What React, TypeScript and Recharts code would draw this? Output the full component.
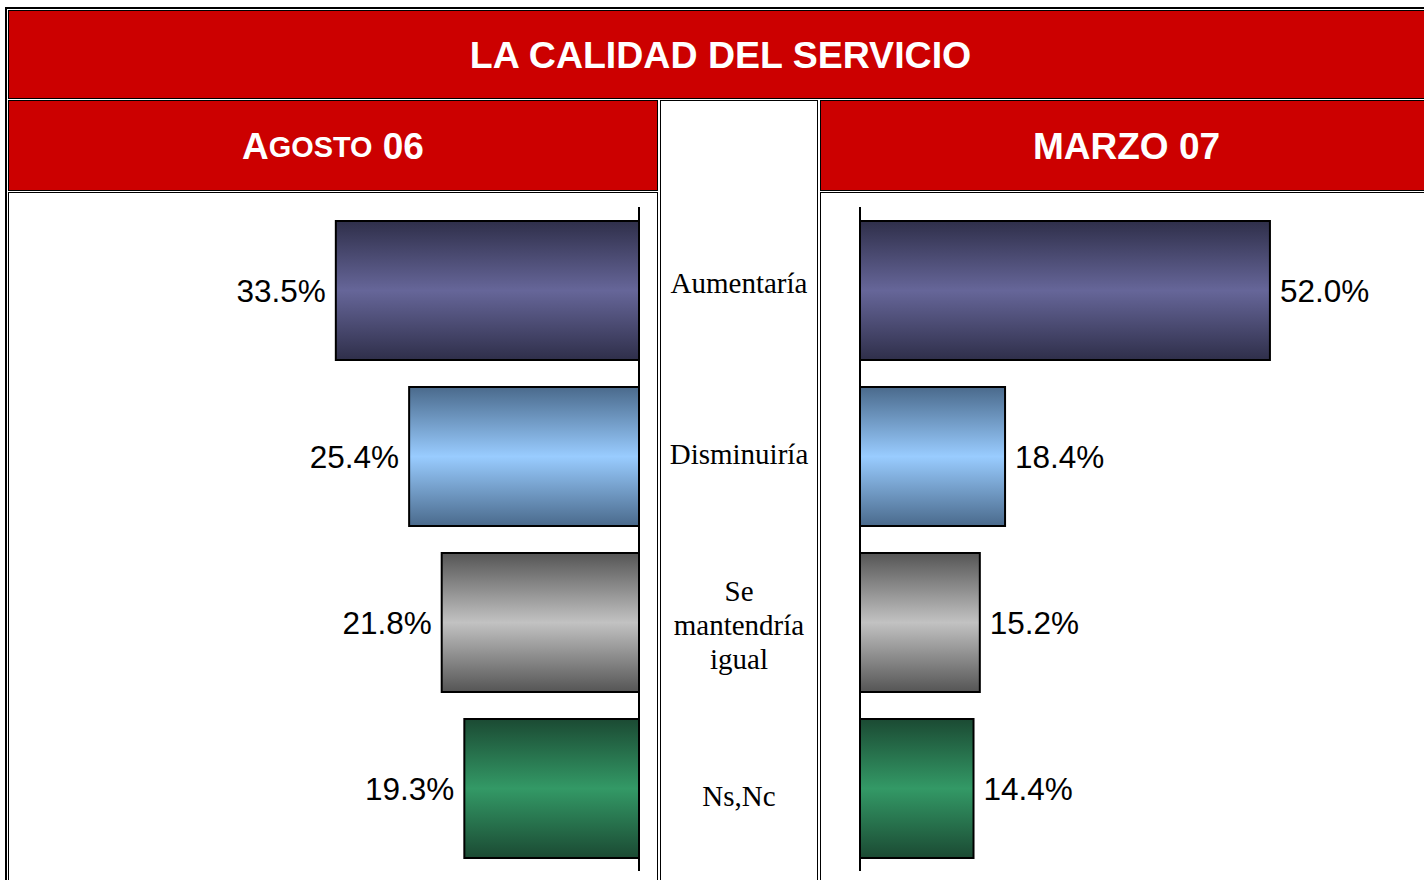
import { BarChart, Bar, XAxis, YAxis, Cell, LabelList, ReferenceLine } from "recharts";

const categories = ["Aumentaría", "Disminuiría", "Se mantendría igual", "Ns,Nc"];
const agosto06 = [33.5, 25.4, 21.8, 19.3];
const marzo07 = [52.0, 18.4, 15.2, 14.4];

// edge / middle colours of each bar's vertical shading
const barEdge = ["#2f2f4a", "#4a6a8c", "#555555", "#1b4a33"];
const barMid = ["#666699", "#99ccff", "#c2c2c2", "#339966"];

const RED = "#cc0000";
const SANS = "'Liberation Sans', Arial, sans-serif";
const SERIF = "'Liberation Serif', 'Times New Roman', serif";

const leftData = categories.map((name, i) => ({ name, value: agosto06[i] }));
const rightData = categories.map((name, i) => ({ name, value: marzo07[i] }));

const fmt = (v: number) => `${v.toFixed(1)}%`;

function Gradients({ prefix }: { prefix: string }) {
  return (
    <defs>
      {barEdge.map((edge, i) => (
        <linearGradient key={i} id={`${prefix}${i}`} x1="0" y1="0" x2="0" y2="1">
          <stop offset="0%" stopColor={edge} />
          <stop offset="50%" stopColor={barMid[i]} />
          <stop offset="100%" stopColor={edge} />
        </linearGradient>
      ))}
    </defs>
  );
}

function valueLabel(side: "left" | "right") {
  return (p: any) => {
    const vb = p.viewBox ?? p;
    const x0 = Math.min(vb.x, vb.x + vb.width);
    const x1 = Math.max(vb.x, vb.x + vb.width);
    const cy = vb.y + vb.height / 2;
    return (
      <text
        x={side === "left" ? x0 - 10 : x1 + 10}
        y={cy}
        textAnchor={side === "left" ? "end" : "start"}
        dominantBaseline="central"
        fontFamily={SANS}
        fontSize={31.5}
        fill="#000"
      >
        {fmt(Number(p.value))}
      </text>
    );
  };
}

// the names in the middle column sit a little more spread out than the bars
function CategoryTick({ y, payload, index }: any) {
  const lines = String(payload.value).split(" ");
  const lh = 34;
  const i = typeof index === "number" ? index : categories.indexOf(payload.value);
  const top = y + (i - 1.5) * 5 - ((lines.length - 1) * lh) / 2;
  return (
    <text x={119} y={top} textAnchor="middle" fontFamily={SERIF} fontSize={29} fill="#000">
      {lines.map((l, k) => (
        <tspan key={k} x={119} dy={k === 0 ? 10 : lh}>
          {l}
        </tspan>
      ))}
    </text>
  );
}

const cell = (left: number, top: number, width: number, height: number, bg: string) => ({
  position: "absolute" as const,
  left,
  top,
  width,
  height,
  boxSizing: "border-box" as const,
  border: "1px solid #000",
  background: bg,
  display: "flex",
  alignItems: "center",
  justifyContent: "center",
  color: "#fff",
  fontFamily: SANS,
  fontWeight: 700,
  fontSize: 37,
});

export default function App() {
  return (
    <div style={{ position: "absolute", left: 0, top: 0, width: 1424, height: 880, overflow: "hidden", background: "#fff" }}>
      <div
        style={{
          position: "absolute",
          left: 5,
          top: 7,
          width: 1440,
          height: 900,
          boxSizing: "border-box",
          border: "2px solid #000",
        }}
      />
      <div style={{ ...cell(8, 10, 1425, 89, RED), fontSize: 37.5, paddingTop: 2 }}>LA CALIDAD DEL SERVICIO</div>
      <div style={{ ...cell(8, 100, 650, 91, RED), paddingTop: 3 }}>
        A<span style={{ fontSize: "0.78em" }}>GOSTO</span>&nbsp;06
      </div>
      <div style={cell(660, 100, 158, 800, "#fff")} />
      <div style={{ ...cell(820, 100, 613, 91, RED), paddingTop: 3 }}>MARZO 07</div>
      <div style={cell(8, 192, 650, 700, "#fff")} />
      <div style={cell(820, 192, 613, 700, "#fff")} />

      {/* Agosto 06: bars grow to the left */}
      <div style={{ position: "absolute", left: 200, top: 200 }}>
        <BarChart
          width={460}
          height={680}
          layout="vertical"
          data={leftData}
          margin={{ top: 7, right: 21, bottom: 9, left: 77 }}
          barSize={139}
        >
          <Gradients prefix="ga" />
          <XAxis type="number" domain={[0, 40]} reversed hide />
          <YAxis type="category" dataKey="name" hide />
          <Bar dataKey="value" stroke="#000" strokeWidth={2} isAnimationActive={false}>
            {leftData.map((_, i) => (
              <Cell key={i} fill={`url(#ga${i})`} />
            ))}
            <LabelList dataKey="value" content={valueLabel("left")} />
          </Bar>
          <ReferenceLine x={0} stroke="#000" strokeWidth={2} />
        </BarChart>
      </div>

      {/* Marzo 07 with the category names in the middle column */}
      <div style={{ position: "absolute", left: 620, top: 200 }}>
        <BarChart
          width={804}
          height={680}
          layout="vertical"
          data={rightData}
          margin={{ top: 7, right: 91, bottom: 9, left: 0 }}
          barSize={139}
        >
          <Gradients prefix="gm" />
          <XAxis type="number" domain={[0, 60]} hide />
          <YAxis
            type="category"
            dataKey="name"
            width={240}
            axisLine={{ stroke: "#000", strokeWidth: 2 }}
            tickLine={false}
            tick={<CategoryTick />}
            interval={0}
          />
          <Bar dataKey="value" stroke="#000" strokeWidth={2} isAnimationActive={false}>
            {rightData.map((_, i) => (
              <Cell key={i} fill={`url(#gm${i})`} />
            ))}
            <LabelList dataKey="value" content={valueLabel("right")} />
          </Bar>
        </BarChart>
      </div>
    </div>
  );
}
